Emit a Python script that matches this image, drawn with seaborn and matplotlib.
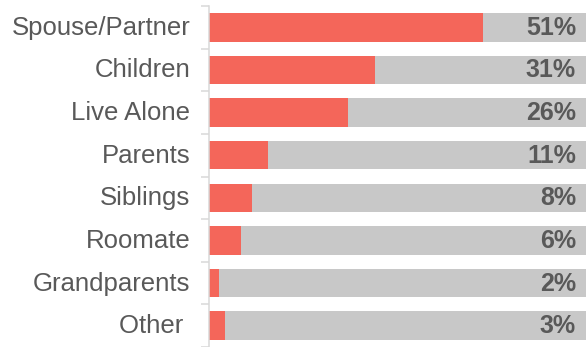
import matplotlib
matplotlib.use("Agg")
import matplotlib.pyplot as plt
import matplotlib.transforms as mtransforms
import seaborn as sns
import pandas as pd
import numpy as np

# Household composition shares
categories = ["Spouse/Partner", "Children", "Live Alone", "Parents",
              "Siblings", "Roomate", "Grandparents", "Other "]
values = [51, 31, 26, 11, 8, 6, 2, 3]
value_labels = ["51%", "31%", "26%", "11%", "8%", "6%", "2%", "3%"]

track_max = 70.2  # right end of the grey track

RED = "#F4665A"
GREY = "#C8C8C8"
TEXT = "#595959"
AXIS = "#D9D9D9"

sns.set_theme(style="white")
plt.rcParams["font.family"] = ["Liberation Sans", "DejaVu Sans"]

df = pd.DataFrame({"category": categories, "value": values,
                   "track": [track_max] * len(categories)})

fig = plt.figure(figsize=(5.86, 3.47), dpi=100)
ax = fig.add_axes([208.5 / 586, 0.0, 1 - 208.5 / 586, 1 - 6 / 347])

sns.barplot(data=df, y="category", x="track", color=GREY, width=0.67,
            saturation=1, orient="h", linewidth=0, ax=ax)
sns.barplot(data=df, y="category", x="value", color=RED, width=0.67,
            saturation=1, orient="h", linewidth=0, ax=ax)

ax.set_xlim(0, track_max)
ax.set_ylim(7.42, -0.5)
ax.set_xlabel("")
ax.set_ylabel("")
ax.set_xticks([])

# category labels
ax.set_yticks(range(len(categories)))
ax.set_yticklabels(categories, fontsize=18.5, color=TEXT)
ax.tick_params(axis="y", which="major", length=0, pad=13)
lift = mtransforms.ScaledTranslation(0, 2 / 100, fig.dpi_scale_trans)
for lbl in ax.get_yticklabels():
    lbl.set_transform(lbl.get_transform() + lift)
# small separators between categories
ax.set_yticks(np.arange(-0.5, len(categories), 1.0), minor=True)
ax.tick_params(axis="y", which="minor", length=6, width=1.1, color=AXIS,
               left=True)

for side in ["top", "right", "bottom"]:
    ax.spines[side].set_visible(False)
ax.spines["left"].set_color(AXIS)
ax.spines["left"].set_linewidth(1.1)

# percentage labels at the right end of each track
for i, lab in enumerate(value_labels):
    ax.annotate(lab, xy=(1, i), xycoords=("axes fraction", "data"),
                xytext=(-10, 2), textcoords="offset pixels",
                ha="right", va="center_baseline", fontsize=18,
                fontweight="bold", color=TEXT)

fig.savefig("out.png", dpi=100)
